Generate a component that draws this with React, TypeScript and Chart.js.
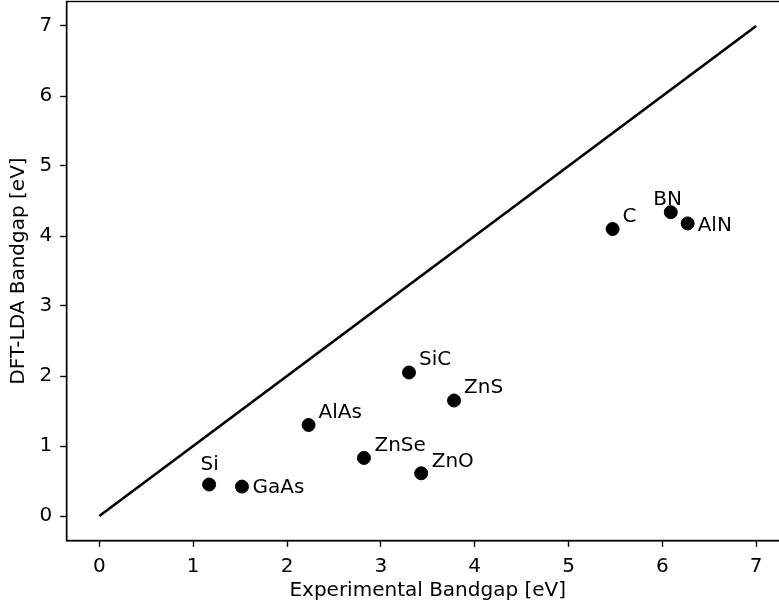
import React, { useEffect, useRef } from "react";
import { Chart, registerables } from "chart.js";

Chart.register(...registerables);

const materials = ["Si", "GaAs", "AlAs", "ZnSe", "ZnO", "SiC", "ZnS", "C", "BN", "AlN"];
const experimentalGap = [1.17, 1.52, 2.23, 2.82, 3.43, 3.30, 3.78, 5.47, 6.09, 6.27];
const ldaGap = [0.45, 0.42, 1.30, 0.83, 0.61, 2.05, 1.65, 4.10, 4.34, 4.18];
const idealLineX = [0, 7];
const idealLineY = [0, 7];
const xTicks = [0, 1, 2, 3, 4, 5, 6, 7];
const yTicks = [0, 1, 2, 3, 4, 5, 6, 7];

const FONT = "'DejaVu Sans', sans-serif";
const FS = 20;

// label pixel offsets (style, not data)
const labelOffsets: Record<string, [number, number]> = {
  Si: [-8.5, -14.5],
  GaAs: [10.5, 6.8],
  AlAs: [10, -6.8],
  ZnSe: [10.5, -6.8],
  ZnO: [10.5, -6.8],
  SiC: [10, -7.3],
  ZnS: [10, -7.3],
  C: [10, -7],
  BN: [-17.5, -7],
  AlN: [10, 7.3],
};

const framePlugin = {
  id: "frame",
  afterDraw(chart: any) {
    const { ctx, chartArea } = chart;
    ctx.save();
    ctx.strokeStyle = "#000";
    ctx.lineWidth = 1.4;
    ctx.strokeRect(chartArea.left, chartArea.top, chartArea.right - chartArea.left, chartArea.bottom - chartArea.top);
    ctx.restore();
  },
};

const labelPlugin = {
  id: "pointLabels",
  afterDatasetsDraw(chart: any) {
    const { ctx, scales } = chart;
    ctx.save();
    ctx.font = `${FS}px ${FONT}`;
    ctx.fillStyle = "#000";
    ctx.textAlign = "left";
    ctx.textBaseline = "alphabetic";
    materials.forEach((name, i) => {
      const px = scales.x.getPixelForValue(experimentalGap[i]);
      const py = scales.y.getPixelForValue(ldaGap[i]);
      const off = labelOffsets[name] || [10, -7];
      ctx.fillText(name, px + off[0], py + off[1]);
    });
    ctx.restore();
  },
};

const zeroPad = (s: any) => {
  s.paddingTop = 0;
  s.paddingBottom = 0;
  s.paddingLeft = 0;
  s.paddingRight = 0;
};

export default function App() {
  const ref = useRef<HTMLCanvasElement>(null);
  useEffect(() => {
    if (!ref.current) return;
    const chart = new Chart(ref.current, {
      type: "scatter",
      data: {
        datasets: [
          {
            type: "line",
            data: idealLineX.map((x, i) => ({ x, y: idealLineY[i] })),
            borderColor: "#000",
            borderWidth: 2.7,
            pointRadius: 0,
            fill: false,
            order: 2,
          } as any,
          {
            type: "scatter",
            data: experimentalGap.map((x, i) => ({ x, y: ldaGap[i] })),
            backgroundColor: "#000",
            borderColor: "#000",
            borderWidth: 1,
            pointRadius: 6.5,
            order: 1,
          },
        ],
      },
      options: {
        responsive: false,
        animation: false,
        devicePixelRatio: 1,
        layout: { autoPadding: false, padding: { top: 1.5, right: 1, left: 0, bottom: 0 } },
        plugins: { legend: { display: false }, tooltip: { enabled: false } },
        scales: {
          x: {
            type: "linear",
            min: -0.35,
            max: 7.35,
            afterBuildTicks: (s: any) => {
              s.ticks = xTicks.map((v) => ({ value: v }));
            },
            afterFit: (s: any) => {
              s.height = 69.5;
              zeroPad(s);
            },
            ticks: {
              color: "#000",
              font: { family: FONT, size: FS },
              padding: 8,
              maxRotation: 0,
            },
            grid: {
              drawOnChartArea: false,
              drawTicks: true,
              tickLength: 6.3,
              tickColor: "#000",
              tickWidth: 1.4,
            },
            border: { color: "#000", width: 1.4 },
            title: {
              display: true,
              text: "Experimental Bandgap [eV]",
              color: "#000",
              font: { family: FONT, size: FS },
              padding: { top: 0, bottom: 7 },
            },
          },
          y: {
            type: "linear",
            min: -0.35,
            max: 7.35,
            afterBuildTicks: (s: any) => {
              s.ticks = yTicks.map((v) => ({ value: v }));
            },
            afterFit: (s: any) => {
              s.width = 66.5;
              zeroPad(s);
            },
            ticks: {
              color: "#000",
              font: { family: FONT, size: FS },
              padding: 8,
            },
            grid: {
              drawOnChartArea: false,
              drawTicks: true,
              tickLength: 6.3,
              tickColor: "#000",
              tickWidth: 1.4,
            },
            border: { color: "#000", width: 1.4 },
            title: {
              display: true,
              text: "DFT-LDA Bandgap [eV]",
              color: "#000",
              font: { family: FONT, size: FS },
              padding: { top: 7, bottom: 0 },
            },
          },
        },
      },
      plugins: [framePlugin, labelPlugin],
    } as any);
    return () => chart.destroy();
  }, []);
  return (
    <div style={{ position: "fixed", left: 0, top: 0, width: 779, height: 610, overflow: "hidden", background: "#fff" }}>
      <canvas ref={ref} width={790} height={610} style={{ display: "block" }} />
    </div>
  );
}
